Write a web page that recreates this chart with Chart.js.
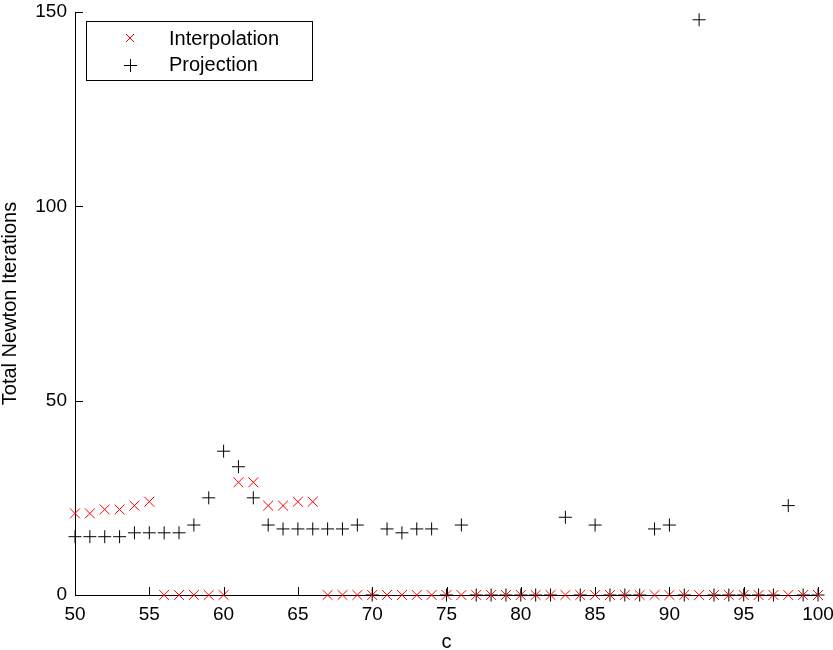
<!DOCTYPE html>
<html>
<head>
<meta charset="utf-8">
<script src="https://cdn.jsdelivr.net/npm/chart.js@4"></script>
<style>
  body { margin: 0; background: #fff; }
  #wrap { width: 833px; height: 650px; }
</style>
</head>
<body>
<div id="wrap"><canvas id="grafico" width="833" height="650"></canvas></div>
<script>
// valores de c
const valoresC = [50,51,52,53,54,55,56,57,58,59,60,61,62,63,64,65,66,67,68,69,70,71,72,73,74,75,
  76,77,78,79,80,81,82,83,84,85,86,87,88,89,90,91,92,93,94,95,96,97,98,99,100];

// iteracoes de Newton - interpolacao
const interpolacao = [21,21,22,22,23,24,0,0,0,0,0,29,29,23,23,24,24,0,0,0,0,0,0,0,0,0,
  0,0,0,0,0,0,0,0,0,0,0,0,0,0,0,0,0,0,0,0,0,0,0,0,0];

// iteracoes de Newton - projecao
const projecao = [15,15,15,15,16,16,16,16,18,25,37,33,25,18,17,17,17,17,17,18,0,17,16,17,17,0,
  18,0,0,0,0,0,0,20,0,18,0,0,0,17,18,0,148,0,0,0,0,0,23,0,0];

const ticksX = [50,55,60,65,70,75,80,85,90,95,100];
const ticksY = [0,50,100,150];

const fonte = '"Liberation Sans", Arial, Helvetica, sans-serif';

function montarPontos(serie) {
    return valoresC.map((c, i) => ({ x: c, y: serie[i] }));
}

// ticks para dentro, estilo matlab
const ticksInternos = {
    id: 'ticksInternos',
    afterDatasetsDraw(chart) {
        const c = chart.ctx;
        const xs = chart.scales.x;
        const ys = chart.scales.y;
        const area = chart.chartArea;
        c.save();
        c.strokeStyle = '#000';
        c.lineWidth = 1;
        c.beginPath();
        ticksX.forEach(v => {
            const px = Math.round(xs.getPixelForValue(v)) + 0.5;
            c.moveTo(px, area.bottom);
            c.lineTo(px, area.bottom - 8);
        });
        ticksY.forEach(v => {
            const py = Math.round(ys.getPixelForValue(v)) + 0.5;
            c.moveTo(area.left, py);
            c.lineTo(area.left + 8, py);
        });
        c.stroke();
        c.restore();
    }
};

// legenda dentro do grafico
const legendaCaixa = {
    id: 'legendaCaixa',
    afterDraw(chart) {
        const c = chart.ctx;
        c.save();
        c.fillStyle = '#fff';
        c.fillRect(86, 21, 226, 59);
        c.strokeStyle = '#000';
        c.lineWidth = 1;
        c.strokeRect(86.5, 21.5, 226, 59);

        c.strokeStyle = '#ff0000';
        c.beginPath();
        c.moveTo(126, 34); c.lineTo(134, 42);
        c.moveTo(134, 34); c.lineTo(126, 42);
        c.stroke();

        c.strokeStyle = '#000';
        c.beginPath();
        c.moveTo(124, 65.5); c.lineTo(137, 65.5);
        c.moveTo(130.5, 59); c.lineTo(130.5, 72);
        c.stroke();

        c.fillStyle = '#000';
        c.font = '20px ' + fonte;
        c.textBaseline = 'middle';
        c.fillText('Interpolation', 169, 39);
        c.fillText('Projection', 169, 65);
        c.restore();
    }
};

const ctx = document.getElementById('grafico').getContext('2d');

const grafico = new Chart(ctx, {
    type: 'scatter',
    data: {
        datasets: [
            {
                label: 'Interpolation',
                data: montarPontos(interpolacao),
                pointStyle: 'crossRot',
                pointRadius: 7,
                borderColor: '#ff0000',
                borderWidth: 1,
                backgroundColor: '#ff0000',
                clip: false
            },
            {
                label: 'Projection',
                data: montarPontos(projecao),
                pointStyle: 'cross',
                pointRadius: 6.5,
                borderColor: '#000',
                borderWidth: 1,
                backgroundColor: '#000',
                clip: false
            }
        ]
    },
    options: {
        responsive: false,
        animation: false,
        layout: { padding: { top: 12, right: 15, left: 0, bottom: 0 } },
        plugins: {
            legend: { display: false },
            tooltip: { enabled: false }
        },
        scales: {
            x: {
                type: 'linear',
                min: 50,
                max: 100,
                afterBuildTicks: s => { s.ticks = ticksX.map(v => ({ value: v })); },
                afterFit: s => { s.height = 55; s.paddingLeft = 0; s.paddingRight = 0; },
                grid: { display: false, drawTicks: false },
                border: { display: true, color: '#000', width: 1 },
                ticks: { color: '#000', font: { family: fonte, size: 19 }, padding: 8, maxRotation: 0 },
                title: { display: true, text: 'c', color: '#000', font: { family: fonte, size: 20 }, padding: { top: 0, bottom: -4 } }
            },
            y: {
                type: 'linear',
                min: 0,
                max: 150,
                afterBuildTicks: s => { s.ticks = ticksY.map(v => ({ value: v })); },
                afterFit: s => { s.width = 75; s.paddingTop = 0; s.paddingBottom = 0; },
                grid: { display: false, drawTicks: false },
                border: { display: true, color: '#000', width: 1 },
                ticks: { color: '#000', font: { family: fonte, size: 19 }, padding: 8 },
                title: { display: true, text: 'Total Newton Iterations', color: '#000', font: { family: fonte, size: 20 }, padding: { top: -2, bottom: 0 } }
            }
        }
    },
    plugins: [ticksInternos, legendaCaixa]
});
</script>
</body>
</html>
